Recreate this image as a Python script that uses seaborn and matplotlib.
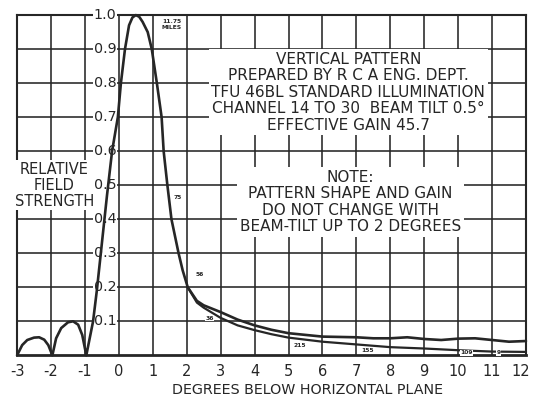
import numpy as np
import pandas as pd
import seaborn as sns
import matplotlib.pyplot as plt
import matplotlib.transforms as mtransforms

# main lobe + side lobes (both tilts share this part)
main_deg = [-3.0, -2.85, -2.7, -2.5, -2.35, -2.2, -2.08, -1.96,
            -1.85, -1.7, -1.5, -1.35, -1.2, -1.08, -0.96,
            -0.76, -0.65, -0.5, -0.35, -0.2, -0.03, 0.06, 0.18, 0.3, 0.4, 0.5,
            0.6, 0.7, 0.85, 0.97, 1.12, 1.26, 1.32, 1.43, 1.55, 1.76, 1.88, 2.03]
main_field = [0.0, 0.03, 0.045, 0.052, 0.053, 0.046, 0.03, 0.0,
              0.05, 0.08, 0.097, 0.1, 0.09, 0.06, 0.0,
              0.1, 0.19, 0.33, 0.47, 0.6, 0.7, 0.8, 0.9, 0.97, 0.993, 1.0,
              0.995, 0.98, 0.95, 0.9, 0.8, 0.7, 0.6, 0.5, 0.4, 0.3, 0.25, 0.2]

# tails after the curves split
upper_deg = [2.03, 2.3, 2.5, 3.0, 3.5, 4.0, 4.5, 5.0, 6.0, 7.0, 7.5, 8.0,
             8.5, 9.0, 9.5, 10.0, 10.5, 11.0, 11.5, 12.0]
upper_field = [0.2, 0.16, 0.147, 0.127, 0.105, 0.088, 0.075, 0.065, 0.055,
               0.053, 0.05, 0.05, 0.053, 0.048, 0.045, 0.049, 0.05, 0.045,
               0.04, 0.042]
lower_deg = [2.03, 2.3, 2.5, 3.0, 3.5, 4.0, 4.5, 5.0, 6.0, 7.0, 8.0, 9.0,
             10.0, 11.0, 12.0]
lower_field = [0.2, 0.155, 0.14, 0.11, 0.088, 0.074, 0.062, 0.052, 0.04,
               0.032, 0.024, 0.02, 0.015, 0.011, 0.01]

# distance marks along the curve (miles)
dist_labels = ["11.75\nMILES", "75", "56", "36", "215", "155", "109", "9"]
dist_deg = [1.55, 1.74, 2.38, 2.68, 5.32, 7.32, 10.24, 11.2]
dist_field = [0.972, 0.465, 0.238, 0.109, 0.03, 0.013, 0.007, 0.007]

xticks = list(range(-3, 13))
yticks = [round(0.1 * i, 1) for i in range(1, 11)]

title_text = ("VERTICAL PATTERN\nPREPARED BY R C A ENG. DEPT.\n"
              "TFU 46BL STANDARD ILLUMINATION\n"
              "CHANNEL 14 TO 30  BEAM TILT 0.5°\nEFFECTIVE GAIN 45.7")
note_text = ("NOTE:\nPATTERN SHAPE AND GAIN\nDO NOT CHANGE WITH\n"
             "BEAM-TILT UP TO 2 DEGREES")

sns.set_style("white")
plt.rcParams['font.family'] = ['DejaVu Sans']

fig = plt.figure(figsize=(5.34, 3.97), dpi=100)
ax = fig.add_axes([0.032, 0.105, 0.953, 0.857])

ink = "#262626"

upper = pd.DataFrame({"deg": main_deg + upper_deg[1:], "field": main_field + upper_field[1:]})
lower = pd.DataFrame({"deg": lower_deg, "field": lower_field})
sns.lineplot(data=upper, x="deg", y="field", color=ink, lw=1.9, ax=ax,
             sort=False, clip_on=False, zorder=5)
sns.lineplot(data=lower, x="deg", y="field", color=ink, lw=1.6, ax=ax,
             sort=False, clip_on=False, zorder=5)

ax.set_xlim(-3, 12)
ax.set_ylim(0, 1.0)
ax.set_xticks(xticks)
ax.set_xticklabels([str(t) for t in xticks], fontsize=10.5, color=ink)
ax.set_yticks(yticks)
ax.set_yticklabels([])
ax.tick_params(axis="both", length=0)
ax.tick_params(axis="x", pad=6)
# last label sits right at the edge; nudge it in
last = ax.get_xticklabels()[-1]
last.set_transform(last.get_transform() + mtransforms.ScaledTranslation(-4 / 72, 0, fig.dpi_scale_trans))
ax.set_axisbelow(True)
ax.grid(True, color=ink, lw=1.15, zorder=0)
for s in ax.spines.values():
    s.set_color(ink)
    s.set_linewidth(1.5)
ax.spines["bottom"].set_linewidth(2)

ax.set_xlabel("DEGREES BELOW HORIZONTAL PLANE", fontsize=10.3, color=ink)
ax.xaxis.set_label_coords(0.57, -0.082)
ax.set_ylabel("")

wbox = dict(facecolor="white", edgecolor="none", pad=0.6)

for v in yticks:
    ax.text(-0.41, v, f"{v:.1f}", ha="center", va="center", fontsize=10.3,
            color=ink, bbox=wbox, zorder=4)

ax.text(-1.9, 0.5, "RELATIVE\nFIELD\nSTRENGTH", ha="center", va="center",
        fontsize=10.5, color=ink, linespacing=1.1,
        bbox=dict(facecolor="white", edgecolor="none", pad=1.0), zorder=4)

ax.text(6.76, 0.773, title_text, ha="center", va="center", fontsize=11,
        color=ink, linespacing=1.12, multialignment="center",
        bbox=dict(facecolor="white", edgecolor="none", pad=2.0), zorder=4)

ax.text(6.82, 0.45, note_text, ha="center", va="center", fontsize=11,
        color=ink, linespacing=1.12, multialignment="center",
        bbox=dict(facecolor="white", edgecolor="none", pad=2.0), zorder=4)

for lab, x, y in zip(dist_labels, dist_deg, dist_field):
    ax.text(x, y, lab, ha="center", va="center", fontsize=4.3, color=ink,
            fontweight="bold", linespacing=1.1,
            bbox=dict(facecolor="white", edgecolor="none", pad=0.3), zorder=6)

fig.savefig("out.png", dpi=100, facecolor="white")
